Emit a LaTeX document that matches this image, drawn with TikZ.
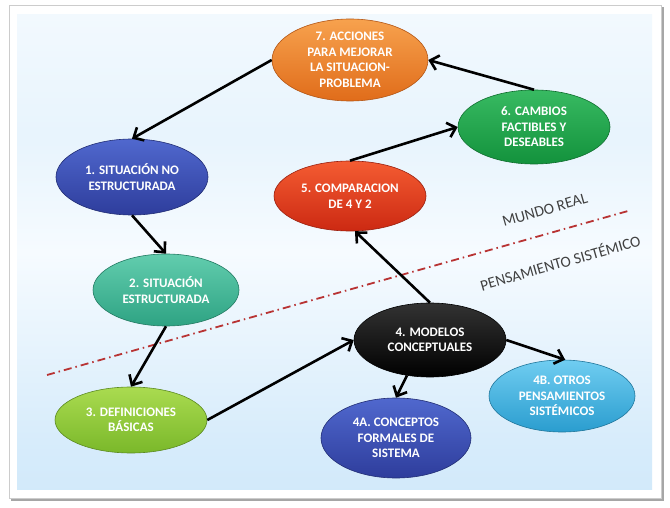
\documentclass[tikz,border=0pt]{standalone}
\usepackage{fontspec}
\setmainfont{Carlito}
\usetikzlibrary{shapes,arrows.meta,positioning,calc}
\definecolor{fondoA}{HTML}{BCDFF8}
\definecolor{fondoB}{HTML}{F6FBFF}
\definecolor{naranjaA}{HTML}{F7A24E}
\definecolor{naranjaB}{HTML}{E06C1A}
\definecolor{verdeA}{HTML}{38BA62}
\definecolor{verdeB}{HTML}{13923C}
\definecolor{azulA}{HTML}{5068CE}
\definecolor{azulB}{HTML}{2E3D9C}
\definecolor{rojoA}{HTML}{F45C32}
\definecolor{rojoB}{HTML}{CC2912}
\definecolor{tealA}{HTML}{62CDAE}
\definecolor{tealB}{HTML}{2EA383}
\definecolor{limaA}{HTML}{AADB50}
\definecolor{limaB}{HTML}{7AB82A}
\definecolor{cianA}{HTML}{70CDF1}
\definecolor{cianB}{HTML}{2A9DCF}
\pgfdeclareverticalshading{fondo}{100bp}{color(0bp)=(fondoA); color(30bp)=(fondoA!60!white); color(50bp)=(fondoB); color(62bp)=(fondoA!35!white); color(80bp)=(fondoB); color(100bp)=(fondoA!85!white)}
\tikzstyle{etapa}=[shape=ellipse, minimum width=152pt, minimum height=74pt, inner sep=0pt, align=center, text=white, font=\bfseries\fontsize{13}{15.5}\selectfont, line width=0.6pt]
\tikzstyle{flecha}=[line width=2.6pt, -{Straight Barb[length=8pt,width=15pt,line width=2.6pt]}]
\tikzstyle{mundo}=[text=black!75, font=\fontsize{15.5}{17}\selectfont, rotate=16]

\begin{document}
\begin{tikzpicture}[x=1pt,y=-1pt]
\useasboundingbox (0,0) rectangle (670,508);
\fill[black!35] (11,7) rectangle (664,501);
\fill[white, draw=black!20] (9,5) rectangle (661,498);
\shade[shading=fondo] (17,15) rectangle (652,489);

\coordinate (l1) at (47,375);
\coordinate (l2) at (628,211);
\draw[red!65!black!80, line width=1.8pt, dash pattern=on 8pt off 4pt on 1.5pt off 4pt] (l1) -- (l2);

\node (mr) [mundo] at (545,210) {MUNDO REAL};
\node (ps) [mundo] at (560,262) {PENSAMIENTO SISTÉMICO};

\node (n7) [etapa, top color=naranjaA, bottom color=naranjaB, draw=naranjaB!80!black, minimum width=156pt, minimum height=82pt] at (350,60) {7. ACCIONES\\PARA MEJORAR\\LA SITUACION-\\PROBLEMA};
\node (n6) [etapa, top color=verdeA, bottom color=verdeB, draw=verdeB!75!black] at (534,127) {6. CAMBIOS\\FACTIBLES Y\\DESEABLES};
\node (n1) [etapa, top color=azulA, bottom color=azulB, draw=azulB!75!black, minimum height=76pt] at (132,177) {1. SITUACIÓN NO\\ESTRUCTURADA};
\node (n5) [etapa, top color=rojoA, bottom color=rojoB, draw=rojoB!75!black, minimum height=70pt] at (350,196) {5. COMPARACION\\DE 4 Y 2};
\node (n2) [etapa, top color=tealA, bottom color=tealB, draw=tealB!75!black, minimum width=146pt, minimum height=72pt] at (166,290) {2. SITUACIÓN\\ESTRUCTURADA};
\node (n4) [etapa, top color=black!80, bottom color=black, draw=black] at (430,340) {4. MODELOS\\CONCEPTUALES};
\node (n3) [etapa, top color=limaA, bottom color=limaB, draw=limaB!75!black, minimum height=66pt] at (131,420) {3. DEFINICIONES\\BÁSICAS};
\node (n4a) [etapa, top color=azulA, bottom color=azulB, draw=azulB!75!black, minimum width=150pt, minimum height=80pt] at (396,438) {4A. CONCEPTOS\\FORMALES DE\\SISTEMA};
\node (n4b) [etapa, top color=cianA, bottom color=cianB, draw=cianB!75!black, minimum width=146pt, minimum height=72pt] at (562,396) {4B. OTROS\\PENSAMIENTOS\\SISTÉMICOS};

%flechas
\draw[flecha] (n7.west) -- (n1.north);
\draw[flecha] (n1.south) -- (n2.north);
\draw[flecha] (n2.south) -- (n3.north);
\draw[flecha] (n3.east) -- (n4.west);
\draw[flecha] (n4.north) -- (n5.-82);
\draw[flecha] (n5.north) -- (n6.west);
\draw[flecha] (n6.north) -- (n7.east);
\draw[flecha] (n4.-123) -- (n4a.north);
\draw[flecha] (n4.east) -- (n4b.85);

\end{tikzpicture}
\end{document}
